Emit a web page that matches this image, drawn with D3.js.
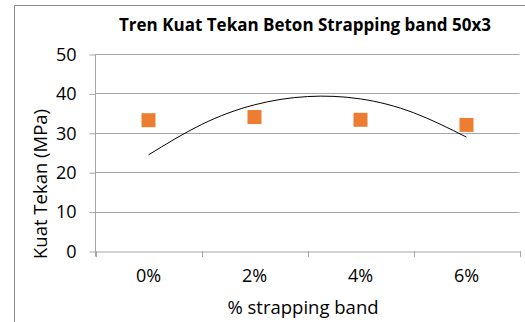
<!DOCTYPE html>
<html><head><meta charset="utf-8">
<script src="https://cdn.jsdelivr.net/npm/d3@7"></script>
<style>body{margin:0;background:#fff}svg{display:block}text{font-family:"Open Sans",sans-serif;fill:#000}</style>
</head><body><svg id="c" width="525" height="322"></svg>
<script>
const categories = ["0%", "2%", "4%", "6%"];
const values = [33.2, 34.0, 33.3, 32.0];
// trendline (poly. order 2) at half-category steps
const trendPos = [0, 0.5, 1, 1.5, 2, 2.5, 3];
const trendVals = [24.4, 32.1, 37.1, 39.2, 38.6, 35.1, 28.9];
const yTicks = [0, 10, 20, 30, 40, 50];
const title = "Tren Kuat Tekan Beton Strapping band 50x3";
const xTitle = "% strapping band";
const yTitle = "Kuat Tekan (MPa)";

const svg = d3.select("#c");
const L = 95.5, R = 519.5, T = 54, B = 251;

// outer border
svg.append("path").attr("d", `M14.5,322 V5.5 H525`).attr("fill","none").attr("stroke","#8c8c8c").attr("stroke-width",1);

const x = d3.scaleBand().domain(categories).range([L, R]).padding(0);
const xi = d3.scaleLinear().domain([0, categories.length - 1]).range([x(categories[0]) + x.bandwidth()/2, x(categories[categories.length-1]) + x.bandwidth()/2]);
const y = d3.scaleLinear().domain([0, 50]).range([B, T]);

// gridlines
svg.append("g").selectAll("line").data(yTicks.filter(d => d > 0)).join("line")
  .attr("x1", L).attr("x2", R).attr("y1", d => Math.round(y(d)) + 0.5).attr("y2", d => Math.round(y(d)) + 0.5)
  .attr("stroke", "#a6a6a6").attr("stroke-width", 1);

// y axis
const ya = svg.append("g").attr("transform", `translate(${L},0.5)`)
  .call(d3.axisLeft(y).tickValues(yTicks).tickSize(6).tickPadding(13).tickSizeOuter(0));
ya.select(".domain").attr("stroke", "#a6a6a6").attr("d", `M0,${y(50)}V${B+5}`);
ya.selectAll(".tick line").attr("stroke", "#a6a6a6");
ya.selectAll(".tick text").attr("font-size", 18).attr("font-family", '"Open Sans",sans-serif').attr("fill","#000");

// x axis
const xa = svg.append("g").attr("transform", `translate(0,${Math.round(B)+0.5})`)
  .call(d3.axisBottom(x).tickSize(0).tickPadding(18).tickSizeOuter(0));
xa.select(".domain").attr("stroke", "#a6a6a6");
xa.selectAll(".tick text").attr("font-size", 18).attr("font-family", '"Open Sans",sans-serif').attr("fill","#000");
// category boundary ticks
svg.append("g").selectAll("line").data(d3.range(categories.length + 1)).join("line")
  .attr("x1", i => Math.round(L + i * x.bandwidth()) + 0.5).attr("x2", i => Math.round(L + i * x.bandwidth()) + 0.5)
  .attr("y1", B).attr("y2", B + 6).attr("stroke", "#a6a6a6");

// trendline
const line = d3.line().x((d, i) => xi(trendPos[i])).y(d => y(d)).curve(d3.curveNatural);
svg.append("path").datum(trendVals).attr("d", line).attr("fill", "none").attr("stroke", "#000").attr("stroke-width", 1);

// markers
const s = 14;
svg.append("g").selectAll("rect").data(values).join("rect")
  .attr("x", (d, i) => x(categories[i]) + x.bandwidth()/2 - s/2)
  .attr("y", d => y(d) - s/2).attr("width", s).attr("height", s).attr("fill", "#ED7D31");

// titles
svg.append("text").attr("x", 305).attr("y", 31).attr("text-anchor", "middle")
  .attr("font-size", 17).attr("font-weight", "bold").text(title);
svg.append("text").attr("x", 303).attr("y", 314).attr("text-anchor", "middle")
  .attr("font-size", 18.5).text(xTitle);
svg.append("text").attr("transform", "translate(47,184) rotate(-90)").attr("text-anchor", "middle")
  .attr("font-size", 18.5).text(yTitle);
</script></body></html>
